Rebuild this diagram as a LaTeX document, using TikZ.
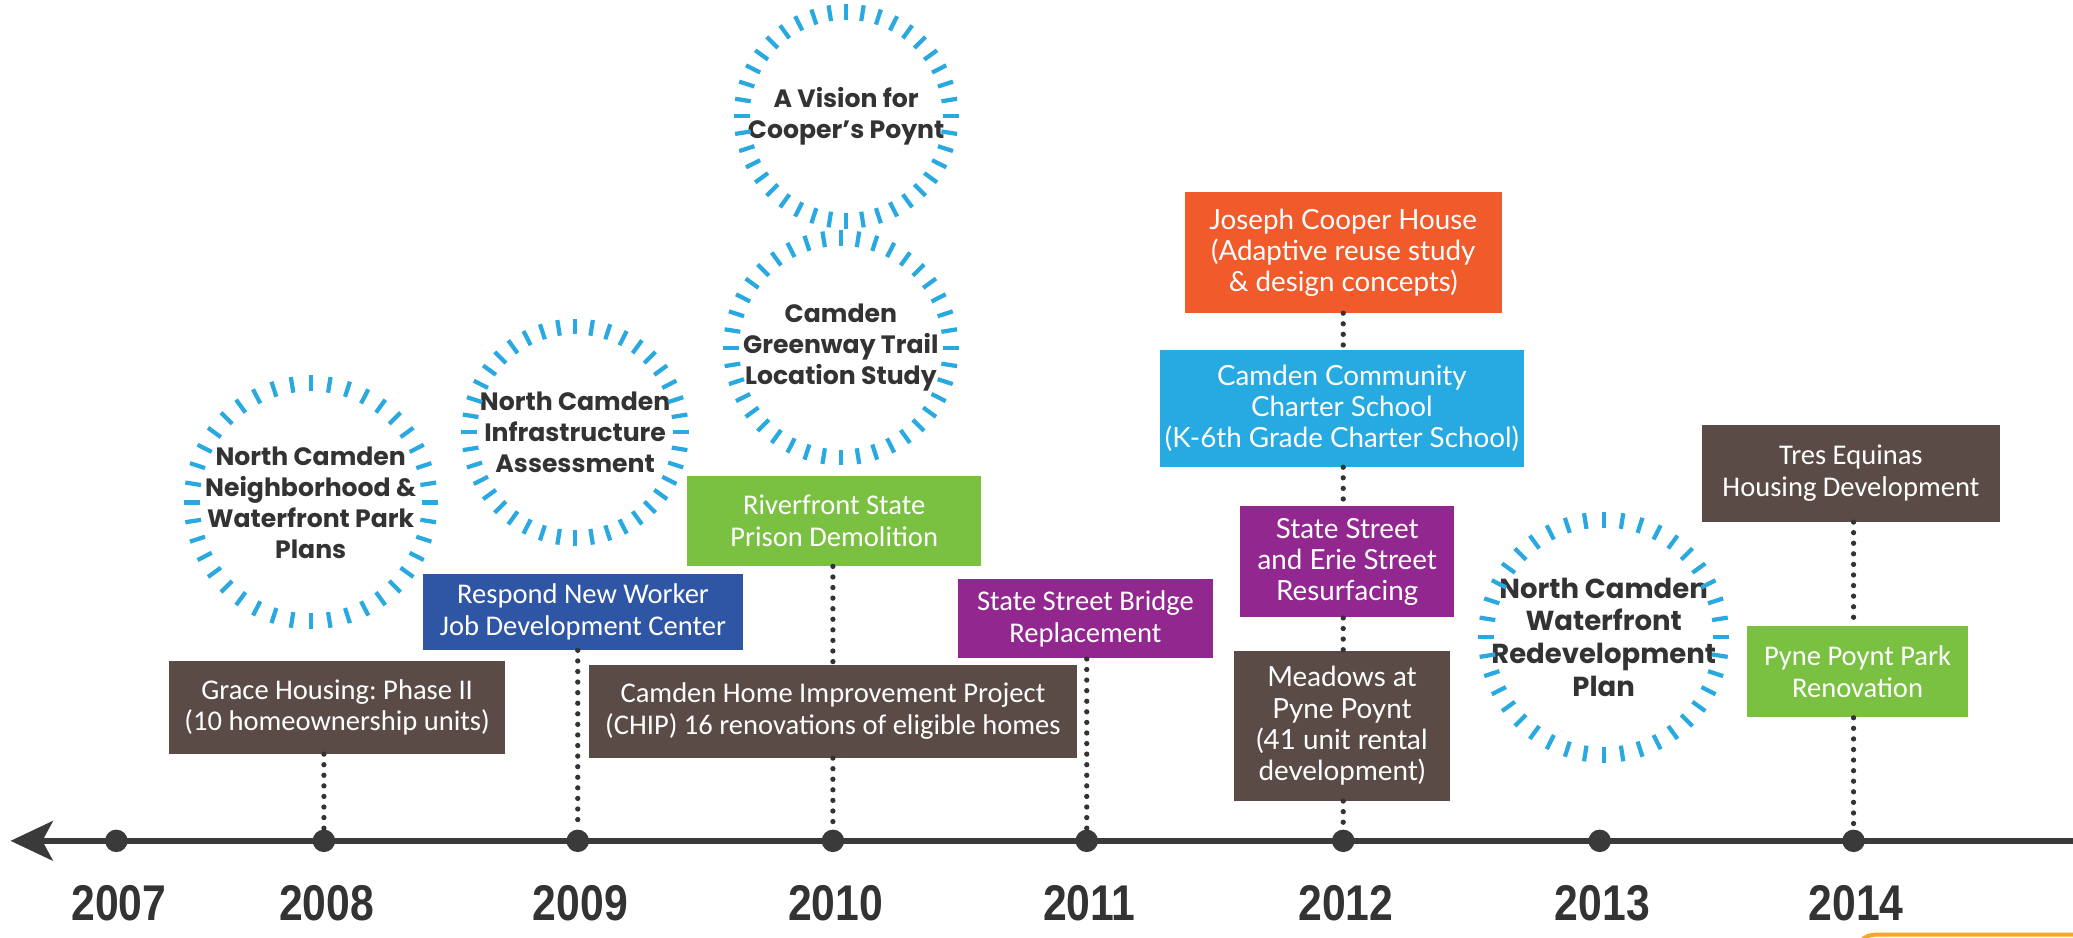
\documentclass[tikz,border=0pt]{standalone}
\usepackage{fontspec}
\setmainfont{Carlito}
\newfontfamily\ringfont{Poppins}
\newfontfamily\widefont{Lato}
\newfontfamily\yearfont[FakeStretch=0.85]{Liberation Sans}
\usetikzlibrary{arrows.meta,positioning}
\definecolor{ink}{HTML}{333333}
\definecolor{axisgray}{HTML}{3A3A3A}
\definecolor{umber}{HTML}{5B4B47}
\definecolor{cobalt}{HTML}{2F55A5}
\definecolor{leaf}{HTML}{7AC142}
\definecolor{plum}{HTML}{92278F}
\definecolor{coral}{HTML}{F15A2B}
\definecolor{sky}{HTML}{27A9E1}
\definecolor{ringblue}{HTML}{29A9E0}
\definecolor{accent}{HTML}{F7A823}
\frenchspacing

\begin{document}
\begin{tikzpicture}[x=0.5pt,y=-0.5pt,
      evt/.style={inner sep=2pt,align=center,text=white,font=\fontsize{10.8}{12}\selectfont},
      wide/.style={font=\widefont\fontsize{10.5}{11.8}\selectfont},
      ring/.style={align=center,text=ink,font=\ringfont\bfseries\fontsize{9.5}{11.7}\selectfont},
      tick/.style={draw=ringblue,line width=1.6pt},
      lead/.style={draw=ink,line width=2pt,line cap=round,dash pattern=on 0pt off 4pt},
      yrdot/.style={circle,fill=axisgray,minimum size=8.5pt,inner sep=0pt},
      yrtext/.style={text=ink,font=\yearfont\bfseries\fontsize{19}{19}\selectfont}]
    \fill[white] (0,0) rectangle (1568,709);
    \useasboundingbox (0,0) rectangle (1568,709);

    \node[ring] (plans) at (235,380) {North Camden\\Neighborhood \&\\Waterfront Park\\Plans};
    \node[ring] (infra) at (435,327) {North Camden\\Infrastructure\\Assessment};
    \node[ring] (vision) at (640,88) {A Vision for\\Cooper’s Poynt};
    \node[ring] (greenway) at (636,263) {Camden\\Greenway Trail\\Location Study};
    \node[ring,font=\ringfont\bfseries\fontsize{10.4}{12.4}\selectfont] (redev) at (1213,482) {North Camden\\Waterfront\\Redevelopment\\Plan};
    \foreach \c/\r in {plans/84,infra/74,vision/73,greenway/77,redev/83}
        \foreach \a in {0,9,...,351}
            \draw[tick] (\c.center) ++(\a:\r) -- ++(\a:12);

    \node[evt,fill=umber,minimum width=127pt,minimum height=35pt] (grace) at (255,535) {Grace Housing: Phase II\\(10 homeownership units)};
    \node[evt,fill=cobalt,minimum width=121pt,minimum height=28.5pt] (respond) at (441,463) {Respond New Worker\\Job Development Center};
    \node[evt,fill=leaf,minimum width=111pt,minimum height=34pt] (prison) at (631,394) {Riverfront State\\Prison Demolition};
    \node[evt,fill=umber,minimum width=184.5pt,minimum height=35pt] (chip) at (630,538) {Camden Home Improvement Project\\(CHIP) 16 renovations of eligible homes};
    \node[evt,fill=plum,minimum width=96.5pt,minimum height=30pt] (bridge) at (821,468) {State Street Bridge\\Replacement};
    \node[evt,wide,fill=coral,minimum width=120pt,minimum height=45.5pt] (cooper) at (1016,191) {Joseph Cooper House\\(Adaptive reuse study\\\& design concepts)};
    \node[evt,wide,fill=sky,minimum width=135pt,minimum height=44pt] (charter) at (1015,309) {Camden Community\\Charter School\\(K-6th Grade Charter School)};
    \node[evt,wide,fill=plum,minimum width=81pt,minimum height=42pt] (erie) at (1019,425) {State Street\\and Erie Street\\Resurfacing};
    \node[evt,wide,fill=umber,minimum width=82pt,minimum height=56.5pt] (meadows) at (1015,549) {Meadows at\\Pyne Poynt\\(41 unit rental\\development)};
    \node[evt,fill=umber,minimum width=112.5pt,minimum height=36.5pt] (tres) at (1400,358) {Tres Equinas\\Housing Development};
    \node[evt,fill=leaf,minimum width=83.5pt,minimum height=34.5pt] (park) at (1405,508) {Pyne Poynt Park\\Renovation};

    \coordinate (axL) at (8,636);
    \coordinate (axR) at (1570,636);
    \draw[axisgray,line width=2pt,-{Stealth[length=16pt,width=15pt,inset=4pt]}] (axR) -- (axL);
    \foreach \yr/\x in {2007/88,2008/245,2009/437,2010/630,2011/822,2012/1016,2013/1210,2014/1402} {
        \node[yrdot] (d\yr) at (\x,636) {};
        \node[yrtext] (t\yr) at (\x+2,683) {\yr};
    }

    \draw[lead] (grace.south -| d2008) -- (d2008);
    \draw[lead] (respond.south -| d2009) -- (d2009);
    \draw[lead] (prison.south -| d2010) -- (chip.north -| d2010);
    \draw[lead] (chip.south -| d2010) -- (d2010);
    \draw[lead] (bridge.south -| d2011) -- (d2011);
    \draw[lead] (cooper.south -| d2012) -- (charter.north -| d2012);
    \draw[lead] (charter.south -| d2012) -- (erie.north -| d2012);
    \draw[lead] (erie.south -| d2012) -- (meadows.north -| d2012);
    \draw[lead] (meadows.south -| d2012) -- (d2012);
    \draw[lead] (tres.south -| d2014) -- (park.north -| d2014);
    \draw[lead] (park.south -| d2014) -- (d2014);

    \begin{scope}
        \clip (0,0) rectangle (1568,709);
        \draw[accent,line width=1.5pt,rounded corners=7pt] (1404,707) rectangle (1640,780);
    \end{scope}
\end{tikzpicture}
\end{document}
